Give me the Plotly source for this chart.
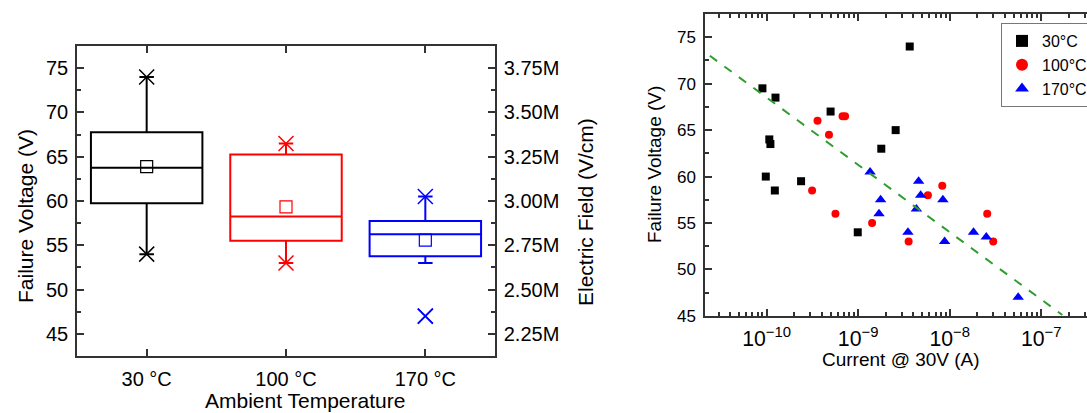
import numpy as np
import plotly.graph_objects as go

# categories / series
temps = ['30 °C', '100 °C', '170 °C']
legend_names = ['30°C', '100°C', '170°C']
colors = ['black', '#ff0000', '#0000ff']
symbols = ['square', 'circle', 'triangle-up']

current_30 = [9.0e-11, 1.25e-10, 5.0e-10, 2.57e-9, 1.79e-9, 1.07e-10,
              1.1e-10, 3.66e-9, 9.8e-11, 1.23e-10, 2.38e-10, 9.9e-10]
voltage_30 = [69.5, 68.5, 67.0, 65.0, 63.0, 64.0, 63.5, 74.0, 60.0, 58.5, 59.5, 54.0]

current_100 = [3.6e-10, 4.8e-10, 6.75e-10, 7.2e-10, 3.14e-10, 5.65e-10,
               1.42e-9, 3.56e-9, 5.78e-9, 8.3e-9, 2.57e-8, 2.99e-8]
voltage_100 = [66.0, 64.5, 66.5, 66.5, 58.5, 56.0, 55.0, 53.0, 58.0, 59.0, 56.0, 53.0]

current_170 = [1.35e-9, 1.76e-9, 1.69e-9, 4.58e-9, 4.82e-9, 8.43e-9,
               4.33e-9, 3.5e-9, 8.8e-9, 1.82e-8, 2.51e-8, 5.6e-8]
voltage_170 = [60.5, 57.5, 56.0, 59.5, 58.0, 57.5, 56.5, 54.0, 53.0, 54.0, 53.5, 47.0]

# linear fit (dashed green) end points
fit_current = [2.4e-11, 1.7e-7]
fit_voltage = [73.0, 45.1]

field_per_volt = 5e4  # V/cm per V

currents = [current_30, current_100, current_170]
voltages = [voltage_30, voltage_100, voltage_170]

W, H = 1087, 413
FONT = 'Liberation Sans, Arial, sans-serif'
AX = '#333333'


def px_x(p):
    return p / W


def px_y(p):
    return 1 - p / H


fig = go.Figure()

# ---- left panel: box plot ----
for name, c, v in zip(temps, colors, voltages):
    fig.add_trace(go.Box(
        y=v, x=[name] * len(v), name=name,
        quartilemethod='exclusive', boxpoints='outliers',
        marker=dict(symbol='x-thin', size=15, color=c, line=dict(color=c, width=1.5)),
        line=dict(color=c, width=2), fillcolor='rgba(0,0,0,0)',
        width=0.8, whiskerwidth=0.13, showlegend=False,
        xaxis='x', yaxis='y', hoverinfo='skip'))
    # min / max markers
    fig.add_trace(go.Scatter(
        x=[name, name], y=[min(v), max(v)], mode='markers',
        marker=dict(symbol='x-thin', size=15, line=dict(color=c, width=1.5)),
        showlegend=False, xaxis='x', yaxis='y', hoverinfo='skip'))
    # mean marker
    fig.add_trace(go.Scatter(
        x=[name], y=[np.mean(v)], mode='markers',
        marker=dict(symbol='square-open', size=12, color=c, line=dict(width=1.2)),
        showlegend=False, xaxis='x', yaxis='y', hoverinfo='skip'))

# invisible trace for electric field axis
fig.add_trace(go.Scatter(
    x=temps, y=[np.mean(v) * field_per_volt for v in voltages], mode='markers',
    marker=dict(opacity=0), showlegend=False, xaxis='x', yaxis='y2', hoverinfo='skip'))

# ---- right panel: scatter ----
for name, c, s, i, v in zip(legend_names, colors, symbols, currents, voltages):
    fig.add_trace(go.Scatter(
        x=i, y=v, mode='markers', name=name,
        marker=dict(symbol=s, size=8 if s != 'triangle-up' else 10, color=c),
        xaxis='x2', yaxis='y3'))

fig.add_trace(go.Scatter(
    x=fit_current, y=fit_voltage, mode='lines',
    line=dict(color='#2f9e2f', width=2, dash='dash'),
    showlegend=False, xaxis='x2', yaxis='y3', hoverinfo='skip'))

axis_common = dict(showline=True, linecolor=AX, linewidth=1.5, ticks='inside',
                   tickcolor=AX, tickwidth=1.5, ticklen=7, showgrid=False,
                   zeroline=False)

left_dom = [px_x(77), px_x(495)]
left_ydom = [px_y(356), px_y(46)]
right_dom = [px_x(705), 1.0]
right_ydom = [px_y(316), px_y(14)]

fig.update_layout(
    width=W, height=H,
    margin=dict(l=0, r=0, t=0, b=0, autoexpand=False),
    paper_bgcolor='white', plot_bgcolor='white',
    font=dict(family=FONT, color='black'),
    boxmode='overlay',
    xaxis=dict(axis_common, domain=left_dom, anchor='y', type='category',
               categoryorder='array', categoryarray=temps, range=[-0.5, 2.5],
               mirror='ticks', tickfont=dict(size=20), ticklabelstandoff=4),
    yaxis=dict(axis_common, domain=left_ydom, anchor='x', range=[42.5, 77.5],
               tick0=0, dtick=5, tickfont=dict(size=20), ticklabelstandoff=3,
               minor=dict(ticks='inside', dtick=2.5, ticklen=4, tickcolor=AX, tickwidth=1.5)),
    yaxis2=dict(axis_common, overlaying='y', side='right', anchor='x',
                range=[42.5 * field_per_volt, 77.5 * field_per_volt],
                tick0=0, dtick=250000, tickformat='.3s', tickfont=dict(size=20),
                ticklabelstandoff=3,
                minor=dict(ticks='inside', dtick=125000, ticklen=4, tickcolor=AX, tickwidth=1.5)),
    xaxis2=dict(axis_common, domain=right_dom, anchor='y3', type='log',
                range=[-10.673, -6.5], dtick=1, exponentformat='power',
                mirror='allticks', tickfont=dict(size=17), ticklabelstandoff=4,
                minor=dict(ticks='inside', dtick='D1', ticklen=4, tickcolor=AX, tickwidth=1.5)),
    yaxis3=dict(axis_common, domain=right_ydom, anchor='x2', range=[44.99, 77.5],
                tick0=0, dtick=5, tickfont=dict(size=17), ticklabelstandoff=4,
                minor=dict(ticks='inside', dtick=2.5, ticklen=4, tickcolor=AX, tickwidth=1.5)),
    legend=dict(x=px_x(1001), y=px_y(23), xanchor='left', yanchor='top',
                bordercolor='#777777', borderwidth=1, bgcolor='white',
                font=dict(size=16), itemsizing='constant', tracegroupgap=0,
                itemwidth=30),
)

annots = [
    dict(text='Failure Voltage (V)', x=px_x(25), y=px_y(216), textangle=-90, size=21),
    dict(text='Electric Field (V/cm)', x=px_x(585), y=px_y(212), textangle=-90, size=21),
    dict(text='Ambient Temperature', x=px_x(305), y=px_y(400), textangle=0, size=21),
    dict(text='Current @ 30V (A)', x=px_x(901), y=px_y(359), textangle=0, size=19),
    dict(text='Failure Voltage (V)', x=px_x(655), y=px_y(165), textangle=-90, size=19),
]
for a in annots:
    fig.add_annotation(text=a['text'], x=a['x'], y=a['y'], xref='paper', yref='paper',
                       textangle=a['textangle'], showarrow=False,
                       xanchor='center', yanchor='middle',
                       font=dict(size=a['size'], family=FONT, color='black'))

# page body has a default 8px margin; remove it so the figure sits at the page origin
fig.write_html("out.html", config={'displayModeBar': False},
               post_script="document.body.style.margin='0px';")
